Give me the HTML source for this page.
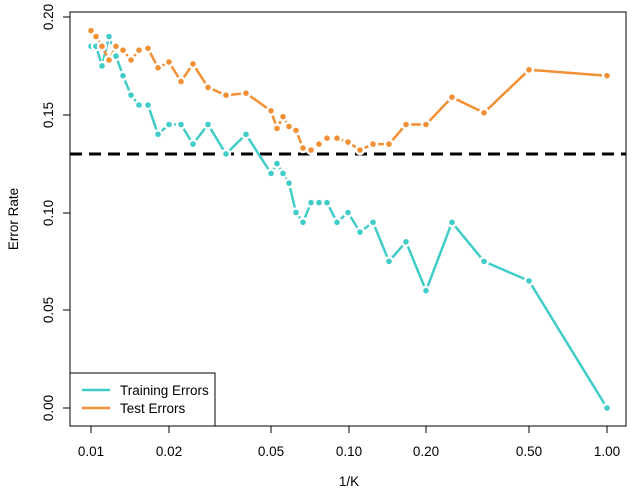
<!DOCTYPE html>
<html><head><style>body{margin:0;background:#fff}svg{display:block}text{font-family:"Liberation Sans",sans-serif;font-size:13.5px;fill:#000}</style></head><body>
<svg width="638" height="493" viewBox="0 0 638 493">
<rect x="70" y="12" width="556" height="414" fill="none" stroke="#000" stroke-width="1"/>
<g stroke="#000" stroke-width="1">
<line x1="70" y1="17" x2="63" y2="17"/><line x1="70" y1="115" x2="63" y2="115"/><line x1="70" y1="213" x2="63" y2="213"/><line x1="70" y1="310" x2="63" y2="310"/><line x1="70" y1="408" x2="63" y2="408"/>
<line x1="91" y1="426" x2="91" y2="433"/><line x1="169" y1="426" x2="169" y2="433"/><line x1="271" y1="426" x2="271" y2="433"/><line x1="349" y1="426" x2="349" y2="433"/><line x1="426" y1="426" x2="426" y2="433"/><line x1="529" y1="426" x2="529" y2="433"/><line x1="607" y1="426" x2="607" y2="433"/>
</g>
<g text-anchor="middle">
<text transform="translate(53,17) rotate(-90)">0.20</text>
<text transform="translate(53,115) rotate(-90)">0.15</text>
<text transform="translate(53,213) rotate(-90)">0.10</text>
<text transform="translate(53,310) rotate(-90)">0.05</text>
<text transform="translate(53,408) rotate(-90)">0.00</text>
<text transform="translate(18,219) rotate(-90)">Error Rate</text>
<text x="91" y="456">0.01</text><text x="169" y="456">0.02</text><text x="271" y="456">0.05</text><text x="349" y="456">0.10</text><text x="426" y="456">0.20</text><text x="529" y="456">0.50</text><text x="607" y="456">1.00</text>
<text x="349" y="486">1/K</text>
</g>
<line x1="70" y1="154" x2="626" y2="154" stroke="#000" stroke-width="3" stroke-dasharray="12,7"/>
<polyline fill="none" stroke="#40CCC8" stroke-width="2.5" points="91,46.3 96,46.3 102,65.9 109,36.5 116,56.1 123,75.7 131,95.2 139,105 148,105 158,134.3 169,124.5 181,124.5 193,144.1 208,124.5 226,153.9 246,134.3 271,173.4 277,163.6 283,173.4 289,183.2 296,212.5 303,222.3 311,202.7 319,202.7 327,202.7 337,222.3 348,212.5 360,232.1 373,222.3 389,261.4 406,241.8 426,290.7 452,222.3 484,261.4 529,280.9 607,408"/>
<polyline fill="none" stroke="#F39035" stroke-width="2.5" points="91,30.7 96,36.5 102,46.3 109,60 116,46.3 123,50.2 131,60 139,50.2 148,48.3 158,67.8 169,62 181,81.5 193,63.9 208,87.4 226,95.2 246,93.2 271,110.8 277,128.4 283,116.7 289,126.5 296,130.4 303,148 311,150 319,144.1 327,138.2 337,138.2 348,142.1 360,150 373,144.1 389,144.1 406,124.5 426,124.5 452,97.2 484,112.8 529,69.8 607,75.7"/>
<g fill="#40CCC8" stroke="#fff" stroke-width="2.4">
<circle cx="91" cy="46.3" r="4"/><circle cx="96" cy="46.3" r="4"/><circle cx="102" cy="65.9" r="4"/><circle cx="109" cy="36.5" r="4"/><circle cx="116" cy="56.1" r="4"/><circle cx="123" cy="75.7" r="4"/><circle cx="131" cy="95.2" r="4"/><circle cx="139" cy="105" r="4"/><circle cx="148" cy="105" r="4"/><circle cx="158" cy="134.3" r="4"/><circle cx="169" cy="124.5" r="4"/><circle cx="181" cy="124.5" r="4"/><circle cx="193" cy="144.1" r="4"/><circle cx="208" cy="124.5" r="4"/><circle cx="226" cy="153.9" r="4"/><circle cx="246" cy="134.3" r="4"/><circle cx="271" cy="173.4" r="4"/><circle cx="277" cy="163.6" r="4"/><circle cx="283" cy="173.4" r="4"/><circle cx="289" cy="183.2" r="4"/><circle cx="296" cy="212.5" r="4"/><circle cx="303" cy="222.3" r="4"/><circle cx="311" cy="202.7" r="4"/><circle cx="319" cy="202.7" r="4"/><circle cx="327" cy="202.7" r="4"/><circle cx="337" cy="222.3" r="4"/><circle cx="348" cy="212.5" r="4"/><circle cx="360" cy="232.1" r="4"/><circle cx="373" cy="222.3" r="4"/><circle cx="389" cy="261.4" r="4"/><circle cx="406" cy="241.8" r="4"/><circle cx="426" cy="290.7" r="4"/><circle cx="452" cy="222.3" r="4"/><circle cx="484" cy="261.4" r="4"/><circle cx="529" cy="280.9" r="4"/><circle cx="607" cy="408" r="4"/>
</g>
<g fill="#F39035" stroke="#fff" stroke-width="2.4">
<circle cx="91" cy="30.7" r="4"/><circle cx="96" cy="36.5" r="4"/><circle cx="102" cy="46.3" r="4"/><circle cx="109" cy="60" r="4"/><circle cx="116" cy="46.3" r="4"/><circle cx="123" cy="50.2" r="4"/><circle cx="131" cy="60" r="4"/><circle cx="139" cy="50.2" r="4"/><circle cx="148" cy="48.3" r="4"/><circle cx="158" cy="67.8" r="4"/><circle cx="169" cy="62" r="4"/><circle cx="181" cy="81.5" r="4"/><circle cx="193" cy="63.9" r="4"/><circle cx="208" cy="87.4" r="4"/><circle cx="226" cy="95.2" r="4"/><circle cx="246" cy="93.2" r="4"/><circle cx="271" cy="110.8" r="4"/><circle cx="277" cy="128.4" r="4"/><circle cx="283" cy="116.7" r="4"/><circle cx="289" cy="126.5" r="4"/><circle cx="296" cy="130.4" r="4"/><circle cx="303" cy="148" r="4"/><circle cx="311" cy="150" r="4"/><circle cx="319" cy="144.1" r="4"/><circle cx="327" cy="138.2" r="4"/><circle cx="337" cy="138.2" r="4"/><circle cx="348" cy="142.1" r="4"/><circle cx="360" cy="150" r="4"/><circle cx="373" cy="144.1" r="4"/><circle cx="389" cy="144.1" r="4"/><circle cx="406" cy="124.5" r="4"/><circle cx="426" cy="124.5" r="4"/><circle cx="452" cy="97.2" r="4"/><circle cx="484" cy="112.8" r="4"/><circle cx="529" cy="69.8" r="4"/><circle cx="607" cy="75.7" r="4"/>
</g>
<rect x="70" y="373" width="145" height="53" fill="#fff" stroke="#000" stroke-width="1"/>
<line x1="82" y1="390" x2="110" y2="390" stroke="#40CCC8" stroke-width="2.5"/>
<line x1="82" y1="408" x2="110" y2="408" stroke="#F39035" stroke-width="2.5"/>
<text x="120" y="395">Training Errors</text>
<text x="120" y="413">Test Errors</text>
</svg>
</body></html>
